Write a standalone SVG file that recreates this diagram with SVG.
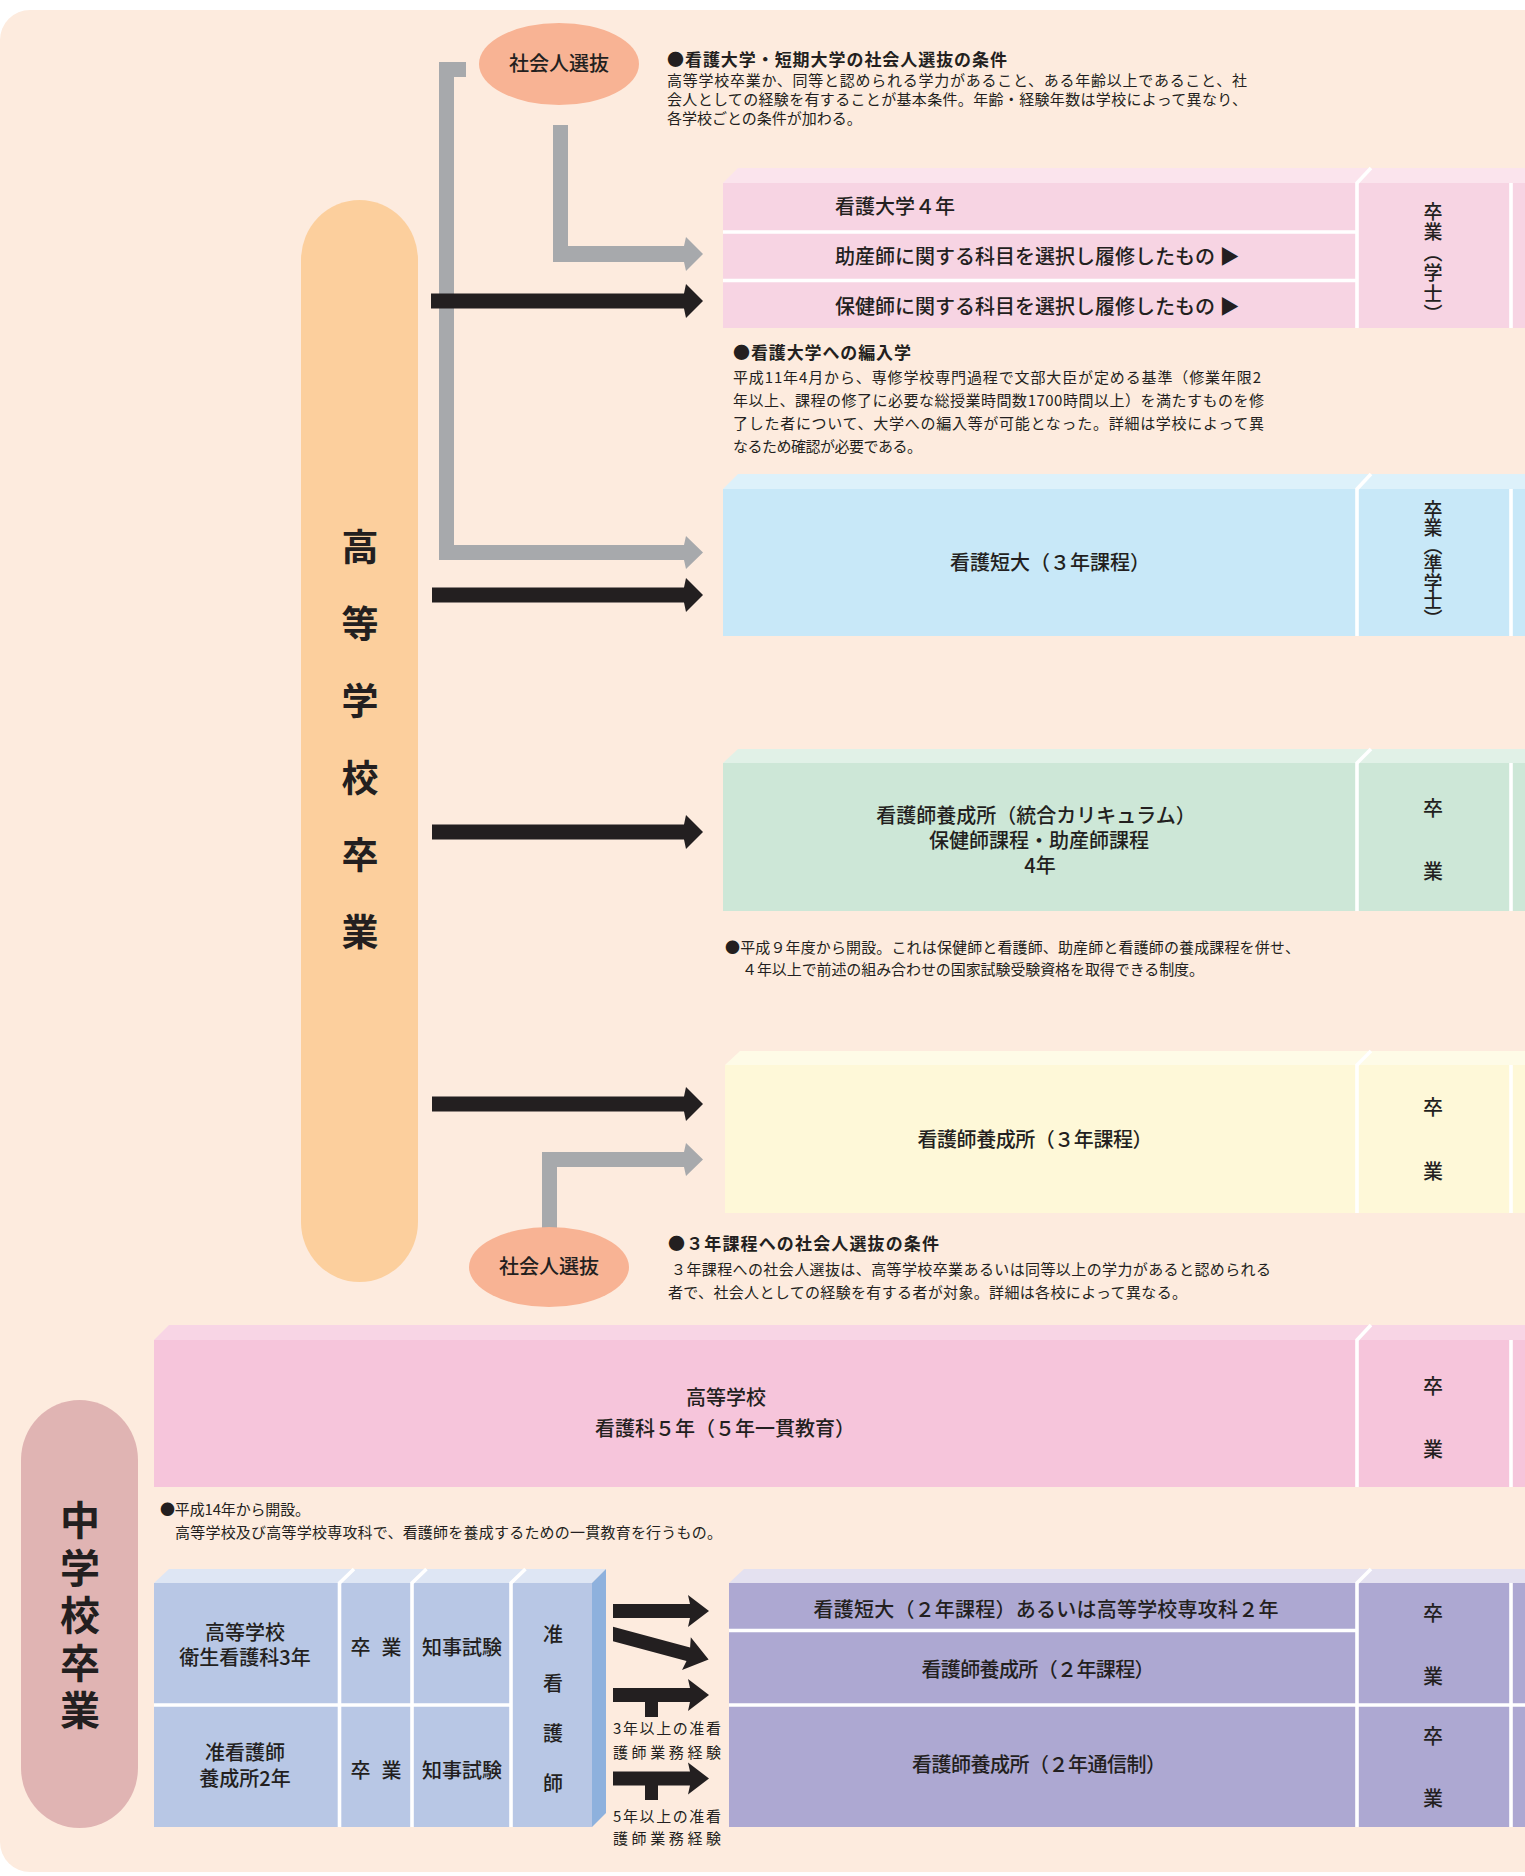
<svg xmlns="http://www.w3.org/2000/svg" width="1525" height="1876" viewBox="0 0 1525 1876">
<defs>
<style>
text{font-family:"Noto Sans CJK JP","Noto Sans CJK SC",sans-serif;fill:#231F20}
.t{font-size:20px;font-weight:500}
.c{text-anchor:middle}
.n{font-size:15px}
.nh{font-size:17px;font-weight:bold}
.big{font-size:37px;font-weight:bold;writing-mode:vertical-rl;letter-spacing:40px}
.big2{font-size:40px;font-weight:bold;writing-mode:vertical-rl;letter-spacing:7.5px}
.vt{font-size:19px;font-weight:500;writing-mode:vertical-rl}
.vj{font-size:20px;font-weight:500;writing-mode:vertical-rl;letter-spacing:29.7px}
.wl{stroke:#FFFFFF;stroke-width:3.6;fill:none}
.gray{fill:#A7A9AC}
.blk{fill:#231F20}
</style>
</defs>
<rect x="0" y="0" width="1525" height="1876" fill="#FFFFFF"/>
<rect x="0" y="10" width="1600" height="1862" rx="30" ry="30" fill="#FDEBDE"/>

<!-- pills -->
<g id="hs-grad">
<rect x="301" y="200" width="117" height="1082" rx="58.5" ry="60" fill="#FCCF9D"/>
<text class="big" x="360" y="528.5">高等学校卒業</text>
</g>
<g id="jhs-grad">
<rect x="21" y="1400" width="117" height="428" rx="58.5" ry="60" fill="#E0B4B3"/>
<text class="big2" x="80" y="1500">中学校卒業</text>
</g>

<!-- connectors -->
<g id="connectors">
<polygon class="gray" points="439,62 466,62 466,77 454,77 454,545 684,545 686,536 703,552.5 686,569 684,560 439,560"/>
<polygon class="gray" points="553,125 568,125 568,246 684,246 686,237 703,254 686,271 684,262 553,262"/>
<polygon class="gray" points="542,1230 542,1152 684,1152 686,1143 703,1159.5 686,1176 684,1167 557,1167 557,1230"/>
<polygon class="blk" points="431,293.5 684,293.5 686,284 703,301 686,318 684,308.5 431,308.5"/>
<polygon class="blk" points="432,587.5 684,587.5 686,578 703,595 686,612 684,602.5 432,602.5"/>
<polygon class="blk" points="432,824.5 684,824.5 686,815 703,832 686,849 684,839.5 432,839.5"/>
<polygon class="blk" points="432,1096.5 684,1096.5 686,1087 703,1104 686,1121 684,1111.5 432,1111.5"/>
<polygon class="blk" points="613,1604 690,1604 688,1595 709,1611 688,1627 690,1618 613,1618"/>
<polygon class="blk" points="613,1626.8 690.1,1647.4 690.8,1637.3 708.6,1659.6 682,1670.1 686.5,1661 613,1641.2"/>
<polygon class="blk" points="613,1688 690,1688 688,1679 709,1695 688,1711 690,1702 658,1702 658,1717 645,1717 645,1702 613,1702"/>
<polygon class="blk" points="613,1771.5 690,1771.5 688,1762.5 709,1778.5 688,1794.5 690,1785.5 658,1785.5 658,1800 645,1800 645,1785.5 613,1785.5"/>
</g>

<g id="shakaijin-top">
<ellipse cx="559" cy="64" rx="80" ry="41" fill="#F8B394"/>
<text class="t c" x="559" y="71">社会人選抜</text>
</g>
<g id="shakaijin-bottom">
<ellipse cx="549" cy="1267" rx="80" ry="40" fill="#F8B394"/>
<text class="t c" x="549" y="1274">社会人選抜</text>
</g>

<!-- notes -->
<g id="note-top">
<text class="nh" x="667" y="66" textLength="340">●看護大学・短期大学の社会人選抜の条件</text>
<text class="n" x="667" y="86" textLength="580">高等学校卒業か、同等と認められる学力があること、ある年齢以上であること、社</text>
<text class="n" x="667" y="105" textLength="580">会人としての経験を有することが基本条件。年齢・経験年数は学校によって異なり、</text>
<text class="n" x="667" y="124">各学校ごとの条件が加わる。</text>
</g>

<!-- Nursing university -->
<g id="univ">
<polygon points="723,183 738,168 1525,168 1525,183" fill="#FBE4ED"/>
<rect x="723" y="183" width="802" height="145" fill="#F7D4E3"/>
<path class="wl" d="M723,232H1356M723,280.5H1356"/>
<path class="wl" d="M1357,328V183L1371,168"/>
<path class="wl" d="M1511,328V183"/>
<text class="t" x="835" y="214">看護大学４年</text>
<text class="t" x="835" y="264">助産師に関する科目を選択し履修したもの ▶</text>
<text class="t" x="835" y="314">保健師に関する科目を選択し履修したもの ▶</text>
<text class="vt" x="1433" y="202" letter-spacing="1.5">卒業（学士）</text>
</g>

<g id="note-transfer">
<text class="nh" x="733" y="359" textLength="178">●看護大学への編入学</text>
<text class="n" x="733" y="382.5" textLength="528">平成11年4月から、専修学校専門過程で文部大臣が定める基準（修業年限2</text>
<text class="n" x="733" y="405.5" textLength="531">年以上、課程の修了に必要な総授業時間数1700時間以上）を満たすものを修</text>
<text class="n" x="733" y="428.5" textLength="531">了した者について、大学への編入等が可能となった。詳細は学校によって異</text>
<text class="n" x="733" y="451.5" textLength="189">なるため確認が必要である。</text>
</g>

<!-- Junior college 3yr -->
<g id="jc3">
<polygon points="723,489 738,474 1525,474 1525,489" fill="#DDF1FA"/>
<rect x="723" y="489" width="802" height="147" fill="#C8E8F8"/>
<path class="wl" d="M1357,636V489L1371,474"/>
<path class="wl" d="M1511,636V489"/>
<text class="t c" x="1050" y="570">看護短大（３年課程）</text>
<text class="vt" x="1433" y="500" letter-spacing="-0.8">卒業（準学士）</text>
</g>

<!-- Integrated curriculum -->
<g id="integrated">
<polygon points="723,763 738,749 1525,749 1525,763" fill="#E1F1E7"/>
<rect x="723" y="763" width="802" height="148" fill="#CDE7D7"/>
<path class="wl" d="M1357,911V763L1371,749"/>
<path class="wl" d="M1511,911V763"/>
<text class="t c" x="1036" y="823">看護師養成所（統合カリキュラム）<tspan x="1039" dy="25">保健師課程・助産師課程</tspan><tspan x="1040" dy="25">4年</tspan></text>
<text class="t c" x="1433" y="816">卒</text>
<text class="t c" x="1433" y="879">業</text>
</g>
<g id="note-integrated">
<text class="n" x="725" y="952.5" textLength="575">●平成９年度から開設。これは保健師と看護師、助産師と看護師の養成課程を併せ、</text>
<text class="n" x="742" y="974.5" textLength="462">４年以上で前述の組み合わせの国家試験受験資格を取得できる制度。</text>
</g>

<!-- Nursing school 3yr -->
<g id="school3">
<polygon points="725,1065 740,1051 1525,1051 1525,1065" fill="#FEFBE7"/>
<rect x="725" y="1065" width="800" height="148" fill="#FEF8D8"/>
<path class="wl" d="M1357,1213V1065L1371,1051"/>
<path class="wl" d="M1511,1213V1065"/>
<text class="t c" x="1035" y="1147" textLength="235">看護師養成所（３年課程）</text>
<text class="t c" x="1433" y="1115">卒</text>
<text class="t c" x="1433" y="1179">業</text>
</g>
<g id="note-school3">
<text class="nh" x="668" y="1250" textLength="271">●３年課程への社会人選抜の条件</text>
<text class="n" x="671" y="1274.5" textLength="600">３年課程への社会人選抜は、高等学校卒業あるいは同等以上の学力があると認められる</text>
<text class="n" x="668" y="1297.5" textLength="519">者で、社会人としての経験を有する者が対象。詳細は各校によって異なる。</text>
</g>

<!-- 5-year integrated -->
<g id="hs5">
<polygon points="154,1340 169,1325 1525,1325 1525,1340" fill="#F8D5E5"/>
<rect x="154" y="1340" width="1371" height="147" fill="#F6C5DB"/>
<path class="wl" d="M1357,1487V1340L1371,1325"/>
<path class="wl" d="M1511,1487V1340"/>
<text class="t c" x="726" y="1405">高等学校<tspan x="725" dy="31">看護科５年（５年一貫教育）</tspan></text>
<text class="t c" x="1433" y="1394">卒</text>
<text class="t c" x="1433" y="1457">業</text>
</g>
<g id="note-hs5">
<text class="n" x="160" y="1514.5" textLength="150">●平成14年から開設。</text>
<text class="n" x="175" y="1537.5" textLength="547">高等学校及び高等学校専攻科で、看護師を養成するための一貫教育を行うもの。</text>
</g>

<!-- Assistant nurse block -->
<g id="assistant">
<polygon points="154,1583 169,1569 606,1569 592,1583" fill="#DEE6F4"/>
<polygon points="592,1583 606,1569 606,1813 592,1827" fill="#8EB1DD"/>
<rect x="154" y="1583" width="438" height="244" fill="#B8C7E5"/>
<path class="wl" d="M154,1705H511"/>
<path class="wl" d="M339.5,1827V1583L354,1569M412,1827V1583L426.5,1569M511,1827V1583L525.5,1569" stroke-width="4.5"/>
<text class="t c" x="245" y="1640">高等学校<tspan x="245" dy="25">衛生看護科3年</tspan></text>
<text class="t c" x="245" y="1760">准看護師<tspan x="245" dy="26">養成所2年</tspan></text>
<text class="t c" x="376" y="1655" textLength="51">卒 業</text>
<text class="t c" x="376" y="1778" textLength="51">卒 業</text>
<text class="t c" x="462" y="1655">知事試験</text>
<text class="t c" x="462" y="1778">知事試験</text>
<text class="vj" x="553" y="1624">准看護師</text>
</g>

<g id="exp-labels">
<text class="n" x="613" y="1734" textLength="108">3年以上の准看</text>
<text class="n" x="613" y="1758" textLength="108">護師業務経験</text>
<text class="n" x="613" y="1822" textLength="108">5年以上の准看</text>
<text class="n" x="613" y="1844" textLength="108">護師業務経験</text>
</g>

<!-- 2yr programs -->
<g id="two-year">
<polygon points="729,1583 744,1569 1525,1569 1525,1583" fill="#E4E1F0"/>
<rect x="729" y="1583" width="796" height="244" fill="#ADA8D2"/>
<path class="wl" d="M729,1630.5H1356" stroke-width="5"/>
<path class="wl" d="M729,1705H1525" stroke-width="4"/>
<path class="wl" d="M1357,1827V1583L1371,1569"/>
<path class="wl" d="M1511,1827V1583"/>
<text class="t c" x="1046" y="1617" textLength="465">看護短大（２年課程）あるいは高等学校専攻科２年</text>
<text class="t c" x="1038" y="1677" textLength="233">看護師養成所（２年課程）</text>
<text class="t c" x="1039" y="1772" textLength="254">看護師養成所（２年通信制）</text>
<text class="t c" x="1433" y="1621">卒</text>
<text class="t c" x="1433" y="1684">業</text>
<text class="t c" x="1433" y="1744">卒</text>
<text class="t c" x="1433" y="1806">業</text>
</g>
</svg>
